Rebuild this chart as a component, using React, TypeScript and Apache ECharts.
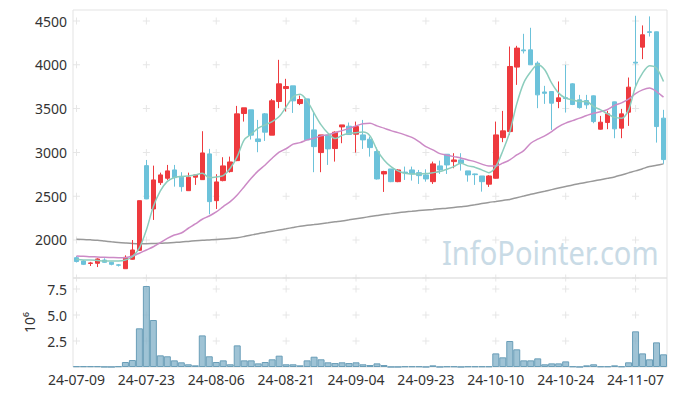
import React, { useEffect, useRef } from 'react';
import * as echarts from 'echarts';

const dates = [
  '24-07-09','24-07-10','24-07-11','24-07-12','24-07-15','24-07-16','24-07-17','24-07-18','24-07-19','24-07-22',
  '24-07-23','24-07-24','24-07-25','24-07-26','24-07-29','24-07-30','24-07-31','24-08-01','24-08-02','24-08-05',
  '24-08-06','24-08-07','24-08-08','24-08-09','24-08-12','24-08-13','24-08-14','24-08-16','24-08-19','24-08-20',
  '24-08-21','24-08-22','24-08-23','24-08-26','24-08-27','24-08-28','24-08-29','24-08-30','24-09-02','24-09-03',
  '24-09-04','24-09-05','24-09-06','24-09-09','24-09-10','24-09-11','24-09-12','24-09-13','24-09-19','24-09-20',
  '24-09-23','24-09-24','24-09-25','24-09-26','24-09-27','24-09-30','24-10-02','24-10-04','24-10-07','24-10-08',
  '24-10-10','24-10-11','24-10-14','24-10-15','24-10-16','24-10-17','24-10-18','24-10-21','24-10-22','24-10-23',
  '24-10-24','24-10-25','24-10-28','24-10-29','24-10-30','24-10-31','24-11-01','24-11-04','24-11-05','24-11-06',
  '24-11-07','24-11-08','24-11-11','24-11-12','24-11-13'
];

const opens = [
  1798,1760,1732,1734,1771,1745,1716,1672,1780,1882,
  2849,2354,2655,2705,2800,2717,2563,2717,2689,2983,
  2449,2678,2781,2906,3444,3486,3154,3440,3197,3581,
  3729,3760,3558,3611,3257,2998,3200,3044,3291,3299,
  3208,3200,3151,3010,2754,2811,2666,2775,2800,2769,
  2743,2666,2846,2979,2895,2914,2789,2754,2731,2637,
  2705,3169,3238,3974,4170,4171,4019,3690,3695,3581,
  3625,3783,3600,3592,3646,3265,3341,3577,3277,3459,
  4030,4202,4378,4377,3391
];
const closes = [
  1754,1722,1738,1783,1745,1722,1712,1802,1886,2449,
  2469,2686,2743,2789,2712,2609,2717,2743,2994,2438,
  2663,2846,2891,3440,3509,3197,3124,3231,3589,3783,
  3752,3589,3604,3143,3066,3200,3040,3231,3314,3204,
  3295,3143,3055,2697,2781,2666,2800,2766,2754,2735,
  2697,2869,2800,2857,2914,2876,2743,2746,2666,2731,
  3200,3246,3981,4191,4160,4000,3657,3675,3562,3623,
  3615,3547,3512,3543,3352,3345,3440,3269,3440,3745,
  4020,4343,4370,3295,2918
];
const lows = [
  1743,1714,1703,1691,1740,1711,1697,1672,1775,1875,
  2469,2229,2629,2686,2609,2552,2560,2629,2689,2294,
  2354,2670,2770,2900,3352,3147,3002,3131,3197,3505,
  3467,3451,3540,3143,2774,2774,2857,2895,3105,3200,
  2998,3040,2952,2690,2549,2660,2660,2686,2678,2640,
  2666,2640,2754,2754,2819,2792,2666,2629,2552,2606,
  2700,3117,3200,3771,4130,4000,3505,3554,3257,3505,
  3455,3540,3500,3497,3333,3260,3265,3162,3162,3303,
  3752,4065,4323,3112,2869
];
const highs = [
  1817,1771,1750,1791,1791,1750,1726,1825,2000,2449,
  2914,2849,2769,2857,2857,2774,2769,2743,3242,3040,
  2751,2945,2952,3531,3509,3486,3371,3450,3610,4057,
  3840,3760,3649,3611,3451,3200,3200,3240,3314,3341,
  3352,3371,3181,3055,2790,2811,2810,2838,2838,2800,
  2807,2895,2906,2979,2991,2991,2789,2758,2731,2740,
  3352,3474,4209,4217,4354,4423,4040,3760,3700,3810,
  4000,3790,3657,3657,3650,3417,3474,3580,3497,3855,
  4560,4450,4553,4380,3486
];

const volumes = [
  0.07,0.07,0.07,0.07,0.02,0.01,0.07,0.48,0.67,3.72,
  7.79,4.52,1.12,1.03,0.64,0.45,0.26,0.16,3.04,1.03,
  0.48,0.64,0.26,2.08,0.64,0.64,0.35,0.48,0.74,1.09,
  0.26,0.26,0.16,0.64,0.99,0.74,0.45,0.38,0.45,0.38,
  0.45,0.26,0.19,0.35,0.19,0.01,0.01,0.06,0.06,0.06,
  0.01,0.16,0.01,0.06,0.06,0.01,0.06,0.06,0.06,0.06,
  1.31,0.93,2.50,1.70,0.64,0.64,0.83,0.26,0.35,0.35,
  0.54,0.06,0.01,0.16,0.26,0.06,0.06,0.16,0.06,0.45,
  3.43,1.31,0.74,2.37,1.22
];

const ma5 = [
  1779,1771,1771,1766,1760,1760,1760,1771,1809,1909,
  2114,2381,2560,2669,2714,2726,2731,2743,2762,2714,
  2720,2735,2819,2952,3143,3208,3277,3314,3352,3409,
  3520,3634,3663,3589,3448,3314,3219,3158,3194,3215,
  3225,3232,3189,3029,2914,2838,2789,2762,2754,2754,
  2758,2769,2781,2808,2838,2877,2846,2831,2800,2769,
  2838,3017,3234,3554,3794,3920,4000,3943,3791,3677,
  3620,3600,3581,3581,3523,3486,3440,3400,3391,3486,
  3752,3905,3989,3962,3809
];
const ma20 = [
  1817,1814,1809,1806,1802,1800,1798,1798,1817,1848,
  1886,1923,1969,2019,2057,2080,2134,2183,2237,2274,
  2320,2381,2438,2514,2609,2705,2789,2857,2934,3002,
  3043,3094,3112,3143,3162,3189,3200,3226,3249,3274,
  3303,3326,3332,3303,3277,3249,3226,3200,3171,3123,
  3066,3029,2986,2968,2952,2937,2914,2895,2866,2846,
  2846,2877,2914,2971,3021,3105,3151,3189,3238,3295,
  3334,3363,3391,3421,3448,3465,3490,3537,3566,3608,
  3672,3714,3734,3695,3631
];
const ma120 = [
  2008,2006,2002,1997,1988,1979,1971,1965,1960,1958,
  1958,1960,1962,1967,1972,1977,1984,1991,1997,2001,
  2005,2011,2018,2026,2040,2056,2072,2086,2100,2114,
  2128,2143,2157,2167,2176,2186,2196,2207,2217,2230,
  2243,2255,2267,2279,2291,2301,2311,2320,2328,2336,
  2343,2349,2356,2362,2371,2380,2389,2402,2416,2429,
  2440,2452,2463,2483,2502,2522,2540,2557,2575,2593,
  2611,2629,2644,2659,2674,2689,2704,2720,2743,2766,
  2789,2814,2838,2853,2869
];

const priceTicks = [2000, 2500, 3000, 3500, 4000, 4500];
const volumeTicks = [2.5, 5, 7.5];
const labelIndices = [0, 10, 20, 30, 40, 50, 60, 70, 80];

const PRICE_MIN = 1566;
const PRICE_MAX = 4626;
const VOL_MAX = 8.56;

const FONT = '"Noto Sans", "Open Sans", sans-serif';
const PLUS = 'path://M3,0H4V3H7V4H4V7H3V4H0V3H3Z';

export default function App() {
  const ref = useRef<HTMLDivElement>(null);
  useEffect(() => {
    if (!ref.current) return;
    const chart = echarts.init(ref.current, undefined, { renderer: 'svg' });
    const candles = opens.map((o, i) => [o, closes[i], lows[i], highs[i]]);
    const plusMain: number[][] = [];
    labelIndices.forEach((xi) => {
      [PRICE_MIN, ...priceTicks].forEach((v) => plusMain.push([xi, v]));
    });
    const plusVol: number[][] = [];
    labelIndices.forEach((xi) => {
      volumeTicks.forEach((v) => plusVol.push([xi, v]));
    });
    const axisText = { color: '#333', fontSize: 14, fontFamily: FONT };
    chart.setOption({
      animation: false,
      textStyle: { fontFamily: FONT },
      graphic: [
        {
          type: 'text',
          left: 442,
          top: 236,
          z: -10,
          scaleX: 0.88,
          style: {
            text: 'InfoPointer.com',
            fontSize: 33,
            fontFamily: FONT,
            fill: '#c9dbe6',
          },
        },
      ],
      grid: [
        { left: 73, right: 10, top: 10, height: 268, show: true, borderColor: '#e3e3e3', borderWidth: 1, backgroundColor: 'transparent' },
        { left: 73, right: 10, top: 278, height: 89, show: true, borderColor: '#e3e3e3', borderWidth: 1, backgroundColor: 'transparent' },
      ],
      xAxis: [
        {
          type: 'category', gridIndex: 0, data: dates, boundaryGap: true,
          axisLine: { show: false }, axisTick: { show: false }, axisLabel: { show: false }, splitLine: { show: false },
        },
        {
          type: 'category', gridIndex: 1, data: dates, boundaryGap: true,
          axisLine: { show: false }, axisTick: { show: false }, splitLine: { show: false },
          axisLabel: { ...axisText, interval: 9, margin: 5 },
        },
      ],
      yAxis: [
        {
          type: 'value', gridIndex: 0, min: PRICE_MIN, max: PRICE_MAX, scale: true,
          axisLine: { show: false }, axisTick: { show: false }, splitLine: { show: false },
          axisLabel: { ...axisText, margin: 6, customValues: priceTicks, formatter: (v: number) => String(Math.round(v)) },
        },
        {
          type: 'value', gridIndex: 1, min: 0, max: VOL_MAX,
          name: '10⁶', nameLocation: 'middle', nameRotate: 90, nameGap: 36,
          nameTextStyle: { color: '#333', fontSize: 14, fontFamily: FONT },
          axisLine: { show: false }, axisTick: { show: false }, splitLine: { show: false },
          axisLabel: { ...axisText, margin: 6, customValues: volumeTicks, formatter: (v: number) => v.toFixed(1) },
        },
      ],
      series: [
        {
          type: 'scatter', xAxisIndex: 0, yAxisIndex: 0, data: plusMain, symbol: PLUS, symbolSize: 7,
          itemStyle: { color: '#e0e0e0' }, silent: true, z: 1,
        },
        {
          type: 'scatter', xAxisIndex: 1, yAxisIndex: 1, data: plusVol, symbol: PLUS, symbolSize: 7,
          itemStyle: { color: '#e0e0e0' }, silent: true, z: 1,
        },
        {
          type: 'line', xAxisIndex: 0, yAxisIndex: 0, data: ma120, showSymbol: false, smooth: 0.3,
          lineStyle: { color: '#999999', width: 1.5 }, z: 2, silent: true,
        },
        {
          type: 'candlestick', xAxisIndex: 0, yAxisIndex: 0, data: candles, barWidth: 5,
          itemStyle: { color: '#ee3a3e', color0: '#6cc2da', borderColor: '#ee3a3e', borderColor0: '#6cc2da', borderWidth: 1 },
          z: 3,
        },
        {
          type: 'line', xAxisIndex: 0, yAxisIndex: 0, data: ma20, showSymbol: false, smooth: 0.3,
          lineStyle: { color: '#cc8ac6', width: 1.5 }, z: 4, silent: true,
        },
        {
          type: 'line', xAxisIndex: 0, yAxisIndex: 0, data: ma5, showSymbol: false, smooth: 0.3,
          lineStyle: { color: '#8ccdbd', width: 1.5 }, z: 5, silent: true,
        },
        {
          type: 'bar', xAxisIndex: 1, yAxisIndex: 1, data: volumes, barWidth: '100%',
          itemStyle: { color: 'rgba(135,180,202,0.8)', borderColor: '#6a9eb8', borderWidth: 1 },
          z: 3,
        },
      ],
    });
    return () => chart.dispose();
  }, []);
  return <div ref={ref} style={{ position: 'absolute', left: 0, top: 0, width: 677, height: 396 }} />;
}
